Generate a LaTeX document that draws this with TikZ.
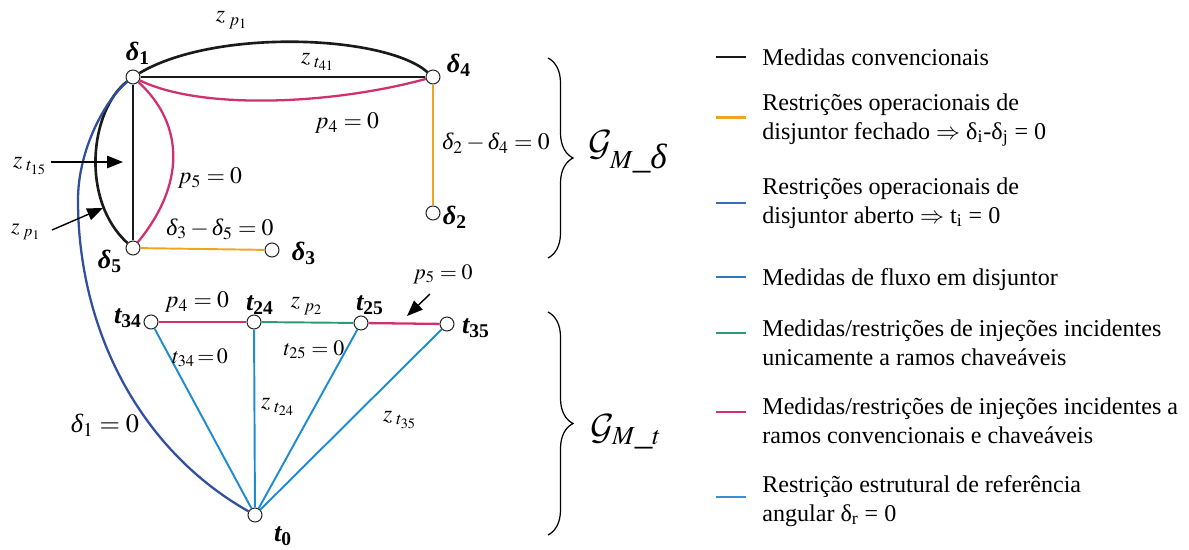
\documentclass[tikz,border=0pt]{standalone}
\usepackage{mathptmx}
\DeclareMathAlphabet{\mathcal}{OMS}{cmsy}{m}{n}
\usepackage[no-math]{fontspec}
\setmainfont{Liberation Serif}
\newcommand{\dlt}{\mbox{\itshape δ}}
\usetikzlibrary{arrows.meta,decorations.pathreplacing}
\definecolor{cblack}{HTML}{1A1A1A}
\definecolor{corange}{HTML}{F0A420}
\definecolor{cmag}{HTML}{D0306E}
\definecolor{cgreen}{HTML}{2E9878}
\definecolor{cblueA}{HTML}{3A6CB4}
\definecolor{cblueF}{HTML}{2C78C2}
\definecolor{cblueR}{HTML}{3E8ED2}
\definecolor{ccyan}{HTML}{1E8CD0}
\definecolor{cnavy}{HTML}{30509F}
\tikzset{
  vtx/.style={circle,draw=black!85,fill=white,line width=0.6pt,minimum size=0.28cm,inner sep=0pt},
  nlab/.style={inner sep=0pt,font=\fontsize{15}{18}\selectfont\bfseries\itshape},
  mlab/.style={inner sep=0pt,font=\fontsize{13.5}{16}\selectfont},
  zlab/.style={inner sep=0pt,font=\fontsize{13.5}{16}\selectfont},
  slab/.style={inner sep=0pt,font=\fontsize{12.5}{15}\selectfont},
  glab/.style={inner sep=0pt,font=\fontsize{20}{24}\selectfont},
  leg/.style={anchor=west,inner sep=0pt,align=left,font=\fontsize{13.7}{16.5}\selectfont},
  conv/.style={draw=cblack,line width=1.5pt},
  magl/.style={draw=cmag,line width=1.3pt},
  orl/.style={draw=corange,line width=1.1pt},
  grl/.style={draw=cgreen,line width=1.1pt},
  cyl/.style={draw=ccyan,line width=1.1pt},
  navl/.style={draw=cnavy,line width=1.3pt},
  legl/.style={line width=1.2pt},
  arr/.style={draw=black,line width=0.8pt,-{Triangle[length=9pt,width=7pt]}},
  brc/.style={draw=black,line width=0.7pt,decorate,decoration={brace,amplitude=0.5cm,aspect=0.5}},
}
\begin{document}
\begin{tikzpicture}[x=0.02cm,y=-0.02cm]
\useasboundingbox (0,0) rectangle (1189,550);
% vertices
\node[vtx] (d1) at (133,77) {};
\node[vtx] (d4) at (433,77) {};
\node[vtx] (d2) at (433,213) {};
\node[vtx] (d5) at (133,248) {};
\node[vtx] (d3) at (272,250) {};
\node[vtx] (t34) at (151,322) {};
\node[vtx] (t24) at (254,322) {};
\node[vtx] (t25) at (361,323) {};
\node[vtx] (t35) at (447,324) {};
\node[vtx] (t0) at (255,515) {};
\coordinate (bend) at (78,200);
% edges
\draw[conv] (d1) -- (d4);
\draw[conv] (d1) .. controls (215,28) and (385,35) .. (d4);
\draw[magl] (d1) .. controls (200,110) and (330,105) .. (d4);
\draw[conv] (d1) -- (d5);
\draw[conv] (d1) .. controls (90,110) and (80,200) .. (d5);
\draw[magl] (d1) .. controls (185,125) and (185,185) .. (d5);
\draw[orl] (d4) -- (d2);
\draw[orl] (d5) -- (d3);
\draw[navl] (d1) .. controls (105,100) and (78,150) .. (bend) .. controls (78,330) and (140,450) .. (t0);
\draw[magl] (t34) -- (t24);
\draw[grl] (t24) -- (t25);
\draw[magl] (t25) -- (t35);
\draw[cyl] (t0) -- (t34);
\draw[cyl] (t0) -- (t24);
\draw[cyl] (t0) -- (t25);
\draw[cyl] (t0) -- (t35);
% vertex labels
\node[nlab] (d1l) at (138,53) {δ\textsubscript{\bfseries\upshape 1}};
\node[nlab] (d4l) at (459,65) {δ\textsubscript{\bfseries\upshape 4}};
\node[nlab] (d2l) at (455,217) {δ\textsubscript{\bfseries\upshape 2}};
\node[nlab] (d3l) at (304,253) {δ\textsubscript{\bfseries\upshape 3}};
\node[nlab] (d5l) at (110,261) {δ\textsubscript{\bfseries\upshape 5}};
\node[nlab] (t34l) at (128,318) {t\textsubscript{\bfseries\upshape 34}};
\node[nlab] (t24l) at (260,305) {t\textsubscript{\bfseries\upshape 24}};
\node[nlab] (t25l) at (370,305) {t\textsubscript{\bfseries\upshape 25}};
\node[nlab] (t35l) at (476,328) {t\textsubscript{\bfseries\upshape 35}};
\node[nlab] (t0l) at (283,536) {t\textsubscript{\bfseries\upshape 0}};
% edge labels
\node[zlab] (zp1a) at (232,20) {$z_{\;p_1}$};
\node[zlab] (zt41) at (318,62) {$z_{\;t_{41}}$};
\node[mlab] (p4a) at (347,123) {$p_4=0$};
\node[mlab] (d24) at (496,143) {$\dlt_2-\dlt_4=0$};
\node[zlab] (zt15) at (30,166) {$z_{\;t_{15}}$};
\node[mlab] (p5a) at (210,178) {$p_5=0$};
\node[slab] (zp1b) at (26,232) {$z_{\;p_1}$};
\node[mlab] (d35) at (220,229) {$\dlt_3-\dlt_5=0$};
\node[slab] (p5b) at (443,274) {$p_5=0$};
\node[mlab] (p4b) at (197,302) {$p_4=0$};
\node[zlab] (zp2) at (307,306) {$z_{\;p_2}$};
\node[slab] (t34e) at (200,358) {$t_{34}\!=\!0$};
\node[slab] (t25e) at (314,350) {$t_{25}=0$};
\node[zlab] (zt24) at (278,407) {$z_{\;t_{24}}$};
\node[zlab] (zt35) at (400,420) {$z_{\;t_{35}}$};
\node[mlab,font=\fontsize{15}{18}\selectfont] (d1e) at (105,425) {$\dlt_1=0$};
% arrows
\coordinate (a1e) at (123,162);
\coordinate (a2s) at (52,230);
\coordinate (a2e) at (103,208);
\coordinate (a3s) at (430,294);
\coordinate (a3e) at (407,316);
\draw[arr] ([xshift=0.08cm]zt15.east |- a1e) -- (a1e);
\draw[arr] (a2s) -- (a2e);
\draw[arr] (a3s) -- (a3e);
% braces
\coordinate (b1t) at (548,58);
\coordinate (b1b) at (548,258);
\coordinate (b2t) at (548,312);
\coordinate (b2b) at (548,535);
\draw[brc] (b1t) -- (b1b);
\draw[brc] (b2t) -- (b2b);
\node[glab] (gmd) at (628,152) {$\mathcal{G}_{M\_\dlt}$};
\node[glab] (gmt) at (626,432) {$\mathcal{G}_{M\_t}$};
% legend
\node[leg] (L1) at (762,57) {Medidas convencionais};
\node[leg] (L2) at (762,120) {Restrições operacionais de\\disjuntor fechado $\Rightarrow$ δ\textsubscript{i}-δ\textsubscript{j} = 0};
\node[leg] (L3) at (762,203) {Restrições operacionais de\\disjuntor aberto $\Rightarrow$ t\textsubscript{i} = 0};
\node[leg] (L4) at (762,280) {Medidas de fluxo em disjuntor};
\node[leg] (L5) at (762,343) {Medidas/restrições de injeções incidentes\\unicamente a ramos chaveáveis};
\node[leg] (L6) at (762,421) {Medidas/restrições de injeções incidentes a\\ramos convencionais e chaveáveis};
\node[leg] (L7) at (762,501) {Restrição estrutural de referência\\angular δ\textsubscript{r} = 0};
\draw[legl,draw=cblack,line width=1.4pt] ([xshift=-0.92cm]L1.west) -- ([xshift=-0.32cm]L1.west);
\draw[legl,draw=corange] ([xshift=-0.92cm,yshift=0.05cm]L2.west) -- ([xshift=-0.32cm,yshift=0.05cm]L2.west);
\draw[legl,draw=cblueA] ([xshift=-0.92cm]L3.west) -- ([xshift=-0.32cm]L3.west);
\draw[legl,draw=cblueF] ([xshift=-0.92cm,yshift=0.06cm]L4.west) -- ([xshift=-0.32cm,yshift=0.06cm]L4.west);
\draw[legl,draw=cgreen] ([xshift=-0.92cm,yshift=0.2cm]L5.west) -- ([xshift=-0.32cm,yshift=0.2cm]L5.west);
\draw[legl,draw=cmag] ([xshift=-0.92cm,yshift=0.18cm]L6.west) -- ([xshift=-0.32cm,yshift=0.18cm]L6.west);
\draw[legl,draw=cblueR] ([xshift=-0.92cm,yshift=0.08cm]L7.west) -- ([xshift=-0.32cm,yshift=0.08cm]L7.west);
\end{tikzpicture}
\end{document}
